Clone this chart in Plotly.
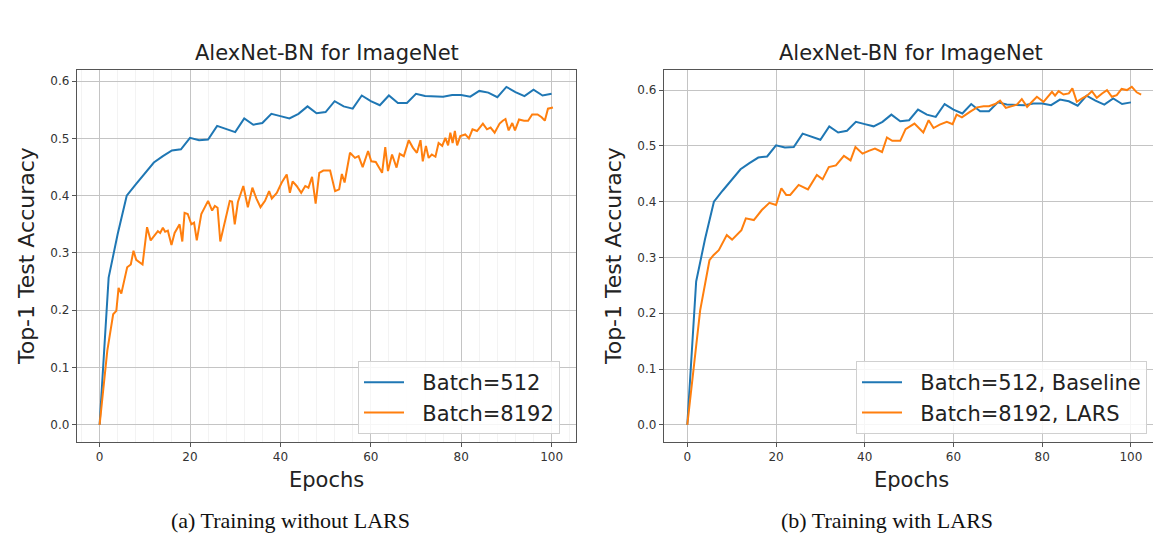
import plotly.graph_objects as go

# ---------------- data ----------------
baseline_epochs = [0, 2, 4, 6, 8, 10, 12, 14, 16, 18, 20, 22, 24, 26, 28, 30, 32, 34, 36, 38, 40,
                   42, 44, 46, 48, 50, 52, 54, 56, 58, 60, 62, 64, 66, 68, 70, 72, 74, 76, 78, 80,
                   82, 84, 86, 88, 90, 92, 94, 96, 98, 100]
baseline_acc = [0.0, 0.257, 0.333, 0.400, 0.420, 0.440, 0.458, 0.469, 0.479, 0.481, 0.501, 0.497,
                0.498, 0.522, 0.516, 0.511, 0.535, 0.524, 0.527, 0.543, 0.539, 0.535, 0.543, 0.556,
                0.544, 0.546, 0.565, 0.556, 0.552, 0.575, 0.565, 0.558, 0.575, 0.562, 0.562, 0.578,
                0.574, 0.573, 0.573, 0.576, 0.576, 0.573, 0.583, 0.580, 0.572, 0.590, 0.581, 0.574,
                0.585, 0.575, 0.578]

nolars_epochs = [0, 1.7, 3.0, 3.7, 4.2, 4.8, 6.1, 6.9, 7.5, 8.1, 9.5, 10.5, 11.3, 12.2, 12.9, 13.4,
                 14.0, 14.5, 15.1, 15.9, 16.6, 17.7, 18.3, 18.8, 19.5, 20.3, 20.9, 21.5, 22.5, 24.0,
                 24.9, 25.5, 26.1, 26.7, 28.1, 28.8, 29.3, 29.9, 30.6, 31.8, 32.8, 33.8, 34.7, 35.6,
                 36.6, 37.5, 38.1, 39.2, 40.3, 41.4, 42.1, 42.7, 43.6, 44.6, 45.5, 46.2, 47.0, 47.8,
                 48.6, 49.5, 51.0, 52.1, 53.0, 53.6, 54.2, 55.4, 56.5, 57.3, 58.2, 59.4, 60.1, 61.1,
                 62.5, 63.2, 63.8, 64.7, 65.7, 66.4, 67.3, 68.4, 69.3, 70.2, 71.0, 71.5, 72.2, 72.8,
                 73.5, 74.3, 75.0, 75.8, 76.5, 77.1, 77.6, 78.1, 78.6, 79.1, 79.8, 80.9, 81.7, 82.5,
                 83.5, 84.8, 85.7, 86.5, 87.4, 88.5, 89.2, 89.8, 90.5, 91.3, 91.9, 92.8, 93.9, 94.8,
                 95.7, 96.9, 97.8, 98.5, 99.2, 100.3]
nolars_acc = [0.0, 0.129, 0.193, 0.199, 0.239, 0.229, 0.275, 0.280, 0.304, 0.288, 0.280, 0.345,
              0.322, 0.330, 0.338, 0.335, 0.344, 0.337, 0.339, 0.314, 0.335, 0.350, 0.320, 0.370,
              0.368, 0.350, 0.353, 0.322, 0.368, 0.391, 0.374, 0.382, 0.379, 0.320, 0.368, 0.391,
              0.390, 0.350, 0.389, 0.417, 0.380, 0.414, 0.395, 0.380, 0.391, 0.408, 0.395, 0.405,
              0.423, 0.437, 0.405, 0.425, 0.417, 0.405, 0.417, 0.414, 0.433, 0.386, 0.440, 0.444,
              0.444, 0.408, 0.411, 0.438, 0.423, 0.475, 0.466, 0.469, 0.450, 0.478, 0.460, 0.459,
              0.440, 0.485, 0.443, 0.472, 0.449, 0.473, 0.469, 0.497, 0.484, 0.475, 0.497, 0.460,
              0.487, 0.466, 0.472, 0.468, 0.492, 0.487, 0.501, 0.488, 0.510, 0.492, 0.513, 0.488,
              0.504, 0.507, 0.500, 0.516, 0.513, 0.526, 0.516, 0.519, 0.510, 0.526, 0.531, 0.534,
              0.514, 0.527, 0.514, 0.533, 0.531, 0.531, 0.542, 0.542, 0.537, 0.531, 0.552, 0.554]

lars_epochs = [0, 2.9, 5.0, 5.9, 7.1, 8.9, 10.1, 12.2, 13.2, 15.0, 16.8, 18.5, 20.0, 21.2, 22.3,
               23.2, 25.1, 27.2, 29.2, 30.5, 31.9, 33.5, 35.3, 36.8, 37.9, 39.5, 40.9, 42.3, 43.9,
               45.0, 46.2, 48.0, 49.2, 51.2, 53.2, 54.4, 55.5, 56.9, 58.5, 59.8, 60.7, 61.9, 63.7,
               65.3, 66.8, 68.0, 69.4, 70.5, 71.8, 73.2, 74.3, 75.4, 76.6, 77.7, 78.8, 80.3, 81.4,
               82.2, 82.9, 83.7, 84.8, 86.0, 86.8, 87.8, 89.0, 90.1, 91.2, 92.3, 93.5, 94.6, 95.7,
               96.8, 97.9, 99.1, 100.2, 101.3, 102.3]
lars_acc = [0.0, 0.205, 0.295, 0.304, 0.313, 0.340, 0.332, 0.349, 0.370, 0.367, 0.385, 0.398, 0.394,
            0.424, 0.412, 0.412, 0.430, 0.422, 0.448, 0.440, 0.462, 0.465, 0.482, 0.474, 0.498,
            0.486, 0.491, 0.495, 0.489, 0.515, 0.509, 0.509, 0.530, 0.540, 0.524, 0.546, 0.532,
            0.538, 0.543, 0.539, 0.556, 0.551, 0.561, 0.569, 0.571, 0.571, 0.575, 0.581, 0.568,
            0.572, 0.574, 0.584, 0.570, 0.579, 0.588, 0.579, 0.590, 0.597, 0.590, 0.598, 0.592,
            0.594, 0.603, 0.579, 0.585, 0.590, 0.598, 0.586, 0.594, 0.600, 0.588, 0.591, 0.602,
            0.600, 0.606, 0.596, 0.592]

x_ticks = [0, 20, 40, 60, 80, 100]
y_ticks = [0.0, 0.1, 0.2, 0.3, 0.4, 0.5, 0.6]
y_tick_text = ["0.0", "0.1", "0.2", "0.3", "0.4", "0.5", "0.6"]

series_names = ["Batch=512", "Batch=8192", "Batch=512, Baseline", "Batch=8192, LARS"]
chart_title = "AlexNet-BN for ImageNet"
x_title = "Epochs"
y_title = "Top-1 Test Accuracy"
captions = ["(a) Training without LARS", "(b) Training with LARS"]

BLUE = "#1f77b4"
ORANGE = "#ff7f0e"
FONT = "DejaVu Sans"
GAP = "\u00a0\u00a0"  # extra gap between legend line sample and label

# page body has an 8px margin; lay out in window pixels and shift
OFF = 8
W, H = 1161 - OFF, 533 - OFF


def px(x):
    return (x - OFF) / W


def py(y):
    return 1 - (y - OFF) / H


fig = go.Figure()

fig.add_trace(go.Scatter(x=baseline_epochs, y=baseline_acc, mode="lines", name=GAP + series_names[0],
                         line=dict(color=BLUE, width=2), xaxis="x", yaxis="y", legend="legend"))
fig.add_trace(go.Scatter(x=nolars_epochs, y=nolars_acc, mode="lines", name=GAP + series_names[1],
                         line=dict(color=ORANGE, width=2), xaxis="x", yaxis="y", legend="legend"))
fig.add_trace(go.Scatter(x=baseline_epochs, y=baseline_acc, mode="lines", name=GAP + series_names[2],
                         line=dict(color=BLUE, width=2), xaxis="x2", yaxis="y2", legend="legend2"))
fig.add_trace(go.Scatter(x=lars_epochs, y=lars_acc, mode="lines", name=GAP + series_names[3],
                         line=dict(color=ORANGE, width=2), xaxis="x2", yaxis="y2", legend="legend2"))

# plot areas in window pixels
left_px = (77, 576)
right_px = (664, 1158)
top_px, bot_px = 70, 441.7
ydom = [py(bot_px), py(top_px)]

axis_common = dict(showline=True, mirror=True, linecolor="#555555", linewidth=1.3,
                   showgrid=True, gridcolor="#c4c4c4", gridwidth=1.4, zeroline=False,
                   ticks="outside", ticklen=4, tickcolor="#555555",
                   tickfont=dict(family=FONT, size=12, color="#333333"))

legend_common = dict(xanchor="left", yanchor="top",
                     bgcolor="rgba(255,255,255,0.85)", bordercolor="#d0d0d0", borderwidth=1,
                     font=dict(family=FONT, size=21, color="#222222"), tracegroupgap=0,
                     itemwidth=40)

fig.update_layout(
    width=W, height=H,
    paper_bgcolor="white", plot_bgcolor="white",
    margin=dict(l=0, r=0, t=0, b=0),
    showlegend=True,
    xaxis=dict(domain=[px(left_px[0]), px(left_px[1])], range=[-5.0, 105.4], anchor="y",
               tickvals=x_ticks,
               minor=dict(dtick=4, showgrid=True, gridcolor="#f3f3f3", gridwidth=1, ticks=""),
               **axis_common),
    yaxis=dict(domain=ydom, range=[-0.0295, 0.6195], anchor="x",
               tickvals=y_ticks, ticktext=y_tick_text, **axis_common),
    xaxis2=dict(domain=[px(right_px[0]), px(right_px[1])], range=[-5.25, 106.1], anchor="y2",
                tickvals=x_ticks, **axis_common),
    yaxis2=dict(domain=ydom, range=[-0.0303, 0.636], anchor="x2",
                tickvals=y_ticks, ticktext=y_tick_text, **axis_common),
    legend=dict(x=px(358), y=py(361), **legend_common),
    legend2=dict(x=px(856), y=py(361), **legend_common),
)

annotations = []
for (x0, x1), cap, cap_x, ylab_x in [(left_px, captions[0], 290, 27), (right_px, captions[1], 887, 614)]:
    cx = (x0 + x1) / 2
    annotations.append(dict(text=chart_title, x=px(cx), y=py(53), xref="paper", yref="paper",
                            showarrow=False, xanchor="center", yanchor="middle",
                            font=dict(family=FONT, size=21, color="#222222")))
    annotations.append(dict(text=x_title, x=px(cx), y=py(480), xref="paper", yref="paper",
                            showarrow=False, xanchor="center", yanchor="middle",
                            font=dict(family=FONT, size=21, color="#222222")))
    annotations.append(dict(text=y_title, x=px(ylab_x), y=py(256), xref="paper", yref="paper",
                            showarrow=False, xanchor="center", yanchor="middle", textangle=-90,
                            font=dict(family=FONT, size=22, color="#222222")))
    annotations.append(dict(text=cap, x=px(cap_x), y=py(520), xref="paper", yref="paper",
                            showarrow=False, xanchor="center", yanchor="middle",
                            font=dict(family="Liberation Serif", size=22, color="#111111")))
fig.update_layout(annotations=annotations)

fig.write_html("out.html")
